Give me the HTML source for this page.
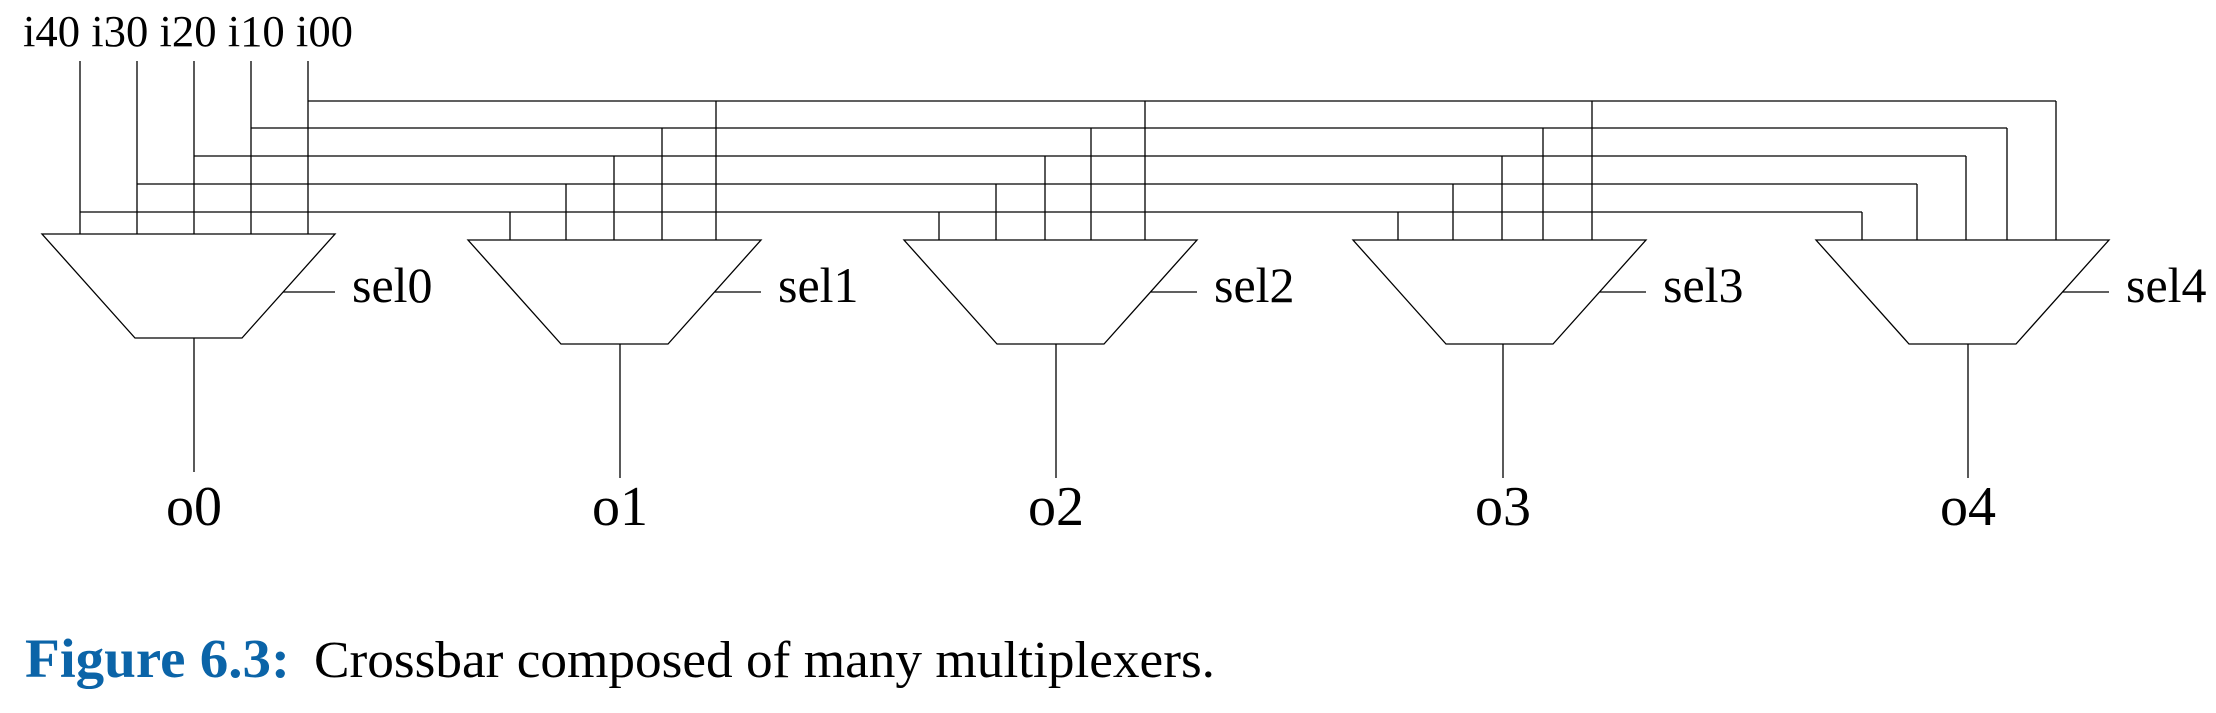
<!DOCTYPE html>
<html><head><meta charset="utf-8"><style>
html,body{margin:0;padding:0;background:#fff;}
svg{display:block;}
text{font-family:"Liberation Serif","DejaVu Serif",serif;fill:#000;}
</style></head><body>
<svg id="fig" width="2216" height="713" viewBox="0 0 2216 713" xmlns="http://www.w3.org/2000/svg">
<text x="23" y="46" font-size="44" textLength="330" lengthAdjust="spacingAndGlyphs">i40 i30 i20 i10 i00</text>
<g id="wires" stroke="#000" stroke-width="1.3" fill="none"></g>
<g id="muxes"></g>
<text x="25" y="677" font-size="55" font-weight="bold" style="fill:#0b64a8" textLength="265" lengthAdjust="spacingAndGlyphs">Figure 6.3:</text>
<text x="314" y="677" font-size="52" textLength="901" lengthAdjust="spacingAndGlyphs">Crossbar composed of many multiplexers.</text>
</svg>
<script>
const muxLeft = [42, 468, 904, 1353, 1816];
const muxTop = [234, 240, 240, 240, 240];
const outX = [194, 620, 1056, 1503, 1968];
// input drop x for each mux, order i4,i3,i2,i1,i0
const inX = [
  [80,137,194,251,308],
  [510,566,614,662,716],
  [939,996,1045,1091,1145],
  [1398,1453,1502,1543,1592],
  [1862,1917,1966,2007,2056]
];
const railY = [212,184,156,128,101]; // i4..i0
const NS = "http://www.w3.org/2000/svg";
const wires = document.getElementById('wires');
const muxes = document.getElementById('muxes');
function line(x1,y1,x2,y2,name){
  const l=document.createElementNS(NS,'line');
  l.setAttribute('x1',x1);l.setAttribute('y1',y1);l.setAttribute('x2',x2);l.setAttribute('y2',y2);
  
  
  wires.appendChild(l);
}
for(let k=0;k<5;k++){
  line(inX[0][k],61,inX[0][k],muxTop[0],'input-wire');
  line(inX[0][k],railY[k],inX[4][k],railY[k],'input-rail');
  for(let m=1;m<5;m++) line(inX[m][k],railY[k],inX[m][k],muxTop[m],'mux-input-drop');
}
const W=293,BO=93,BW=107,H=104;
for(let m=0;m<5;m++){
  const x=muxLeft[m], y=muxTop[m];
  const p=document.createElementNS(NS,'polygon');
  p.setAttribute('points',`${x},${y} ${x+W},${y} ${x+BO+BW},${y+H} ${x+BO},${y+H}`);
  p.setAttribute('fill','#fff');p.setAttribute('stroke','#000');p.setAttribute('stroke-width','1.3');
  
  
  muxes.appendChild(p);
  const sy=292, t=(sy-y)/H, ex=x+W-(W-BO-BW)*t;
  line(ex,sy,x+W,sy,'select-wire');
  const st=document.createElementNS(NS,'text');
  st.setAttribute('x',x+W+17);st.setAttribute('y',302);st.setAttribute('font-size','50');
  st.textContent='sel'+m;
  
  
  muxes.appendChild(st);
  line(outX[m],y+H,outX[m],m===0?472:478,'output-wire');
  const ot=document.createElementNS(NS,'text');
  ot.setAttribute('x',outX[m]);ot.setAttribute('y',525);ot.setAttribute('font-size','56');
  ot.setAttribute('text-anchor','middle');
  ot.textContent='o'+m;
  
  
  muxes.appendChild(ot);
}
</script>
</body></html>
